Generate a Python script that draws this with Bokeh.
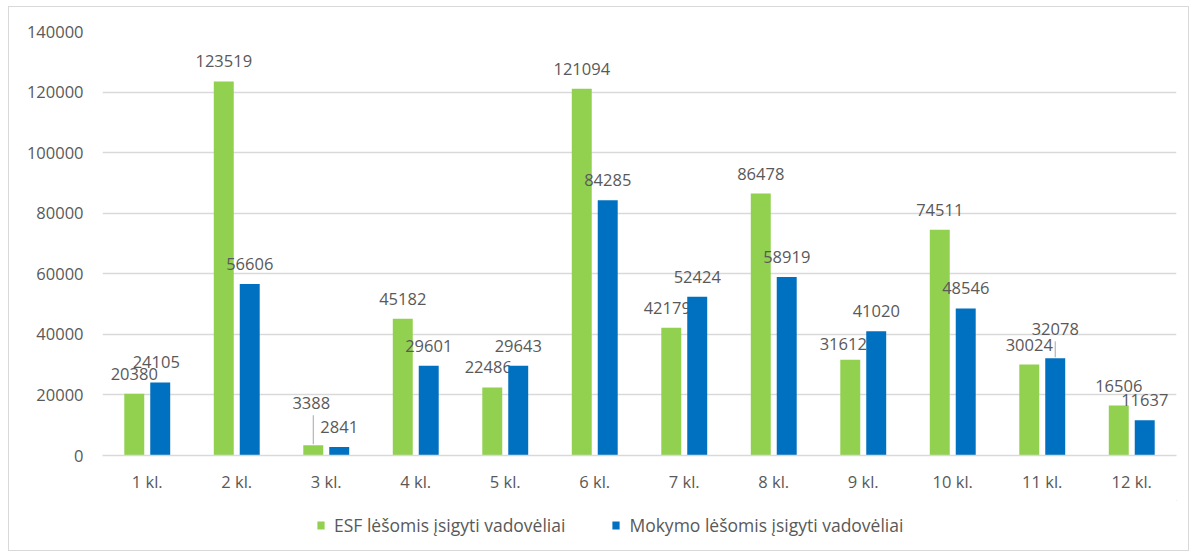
from bokeh.plotting import figure
from bokeh.layouts import column
from bokeh.models import (ColumnDataSource, FactorRange, Range1d, Legend, LegendItem,
                          FixedTicker, NumeralTickFormatter)
from bokeh.transform import dodge
from bokeh.core.properties import value
from bokeh.embed import file_html
from bokeh.resources import INLINE

# ---- data ----
categories = ["1 kl.", "2 kl.", "3 kl.", "4 kl.", "5 kl.", "6 kl.",
              "7 kl.", "8 kl.", "9 kl.", "10 kl.", "11 kl.", "12 kl."]
esf_values = [20380, 123519, 3388, 45182, 22486, 121094,
              42179, 86478, 31612, 74511, 30024, 16506]
mokymo_values = [24105, 56606, 2841, 29601, 29643, 84285,
                 52424, 58919, 41020, 48546, 32078, 11637]
series_names = ["ESF lėšomis įsigyti vadovėliai", "Mokymo lėšomis įsigyti vadovėliai"]
y_ticks = [0, 20000, 40000, 60000, 80000, 100000, 120000, 140000]

# ---- style ----
GREEN = "#92D050"
BLUE = "#0070C0"
TXT = "#595959"
GRID = "#d9d9d9"
FONT = "Open Sans"
OFF = 0.145
BAR_W = 0.223
LABEL_GAP = 20  # px above bar top (label centre)
# label nudges (dx, dy) in px: (series index, category index)
NUDGE = {(0, 2): (-2, -22), (1, 10): (0, -9), (0, 4): (-4, 0),
         (0, 6): (-4, 0), (0, 8): (-7, 4), (1, 0): (-4, 0)}
LEADERS = [(0, 2), (1, 10)]

p = figure(x_range=FactorRange(*categories, range_padding=0),
           y_range=Range1d(0, 140000),
           width=1179, height=493, output_backend="svg", toolbar_location=None,
           min_border_left=93, min_border_right=12, min_border_top=24, min_border_bottom=45)
p.outline_line_color = None
p.background_fill_color = "white"

vals = [esf_values, mokymo_values]
offsets = [-OFF, OFF]
colors = [GREEN, BLUE]
for si in range(2):
    dx = [NUDGE.get((si, ci), (0, 0))[0] for ci in range(len(categories))]
    dy = [NUDGE.get((si, ci), (0, 0))[1] - LABEL_GAP for ci in range(len(categories))]
    src = ColumnDataSource(dict(cat=categories, v=vals[si], lbl=[str(v) for v in vals[si]],
                                dx=dx, dy=dy))
    p.vbar(x=dodge("cat", offsets[si], range=p.x_range), top="v", width=BAR_W,
           source=src, fill_color=colors[si], line_color=None)
    p.text(x=dodge("cat", offsets[si], range=p.x_range), y="v", text="lbl",
           x_offset="dx", y_offset="dy", source=src, text_align="center",
           text_baseline="middle", text_color=TXT, text_font=value(FONT),
           text_font_size="16.5px")

# leader lines
px_to_data = 140000 / 424.0
for si, ci in LEADERS:
    v = vals[si][ci]
    dyl = NUDGE[(si, ci)][1] - LABEL_GAP
    lsrc = ColumnDataSource(dict(x=[categories[ci]], y0=[v + 1 * px_to_data],
                                 y1=[v + (-dyl - 12) * px_to_data]))
    p.segment(x0=dodge("x", offsets[si], range=p.x_range), y0="y0",
              x1=dodge("x", offsets[si], range=p.x_range), y1="y1",
              source=lsrc, line_color="#a6a6a6", line_width=1)

# axes
p.yaxis.ticker = FixedTicker(ticks=y_ticks)
p.yaxis.formatter = NumeralTickFormatter(format="0")
p.yaxis.axis_line_color = None
p.yaxis.major_tick_line_color = None
p.yaxis.minor_tick_line_color = None
p.yaxis.major_tick_out = 0
p.yaxis.major_tick_in = 0
p.yaxis.major_label_standoff = 19
p.yaxis.major_label_text_font = FONT
p.yaxis.major_label_text_font_size = "16.5px"
p.yaxis.major_label_text_color = TXT

p.xaxis.axis_line_color = GRID
p.xaxis.axis_line_width = 1.5
p.xaxis.major_tick_line_color = None
p.xaxis.minor_tick_line_color = None
p.xaxis.major_tick_out = 0
p.xaxis.major_tick_in = 0
p.xaxis.major_label_standoff = 14
p.xaxis.major_label_text_font = FONT
p.xaxis.major_label_text_font_size = "16.5px"
p.xaxis.major_label_text_color = TXT

p.xgrid.grid_line_color = None
p.ygrid.grid_line_color = GRID
p.ygrid.grid_line_width = 1.5

# legend strip (separate figure so the legend is not clipped by the plot frame)
lg = figure(width=1179, height=50, output_backend="svg", toolbar_location=None,
            x_range=Range1d(0, 1), y_range=Range1d(0, 1),
            x_axis_type=None, y_axis_type=None,
            min_border_left=0, min_border_right=0, min_border_top=0, min_border_bottom=0)
lg.grid.visible = False
lg.outline_line_color = None
# placeholder glyphs lie outside the visible range; they only supply legend swatches
lr = [lg.vbar(x=[5], top=[6], bottom=[5], width=0.1, fill_color=c, line_color=None)
      for c in colors]
legend = Legend(items=[LegendItem(label=series_names[i], renderers=[lr[i]]) for i in range(2)],
                orientation="horizontal", location=(214, 13),
                glyph_width=9, glyph_height=10, label_standoff=9, spacing=46,
                label_text_font=FONT, label_text_font_size="17.5px", label_text_color=TXT,
                border_line_color=None, background_fill_alpha=0, padding=0, margin=0)
lg.add_layout(legend, "center")

layout = column(p, lg, spacing=0,
                styles={"border": "1px solid #d9d9d9", "margin-left": "8px", "margin-top": "6px"})

open("out.html", "w").write(file_html(layout, INLINE))
